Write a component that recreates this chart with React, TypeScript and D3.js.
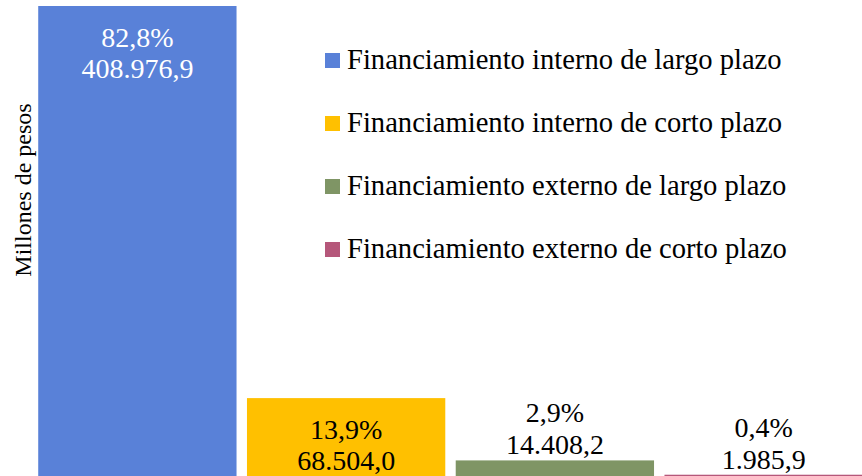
import React from "react"
import * as d3 from "d3"

const categories = [
  "Financiamiento interno de largo plazo",
  "Financiamiento interno de corto plazo",
  "Financiamiento externo de largo plazo",
  "Financiamiento externo de corto plazo",
]
const values = [408976.9, 68504.0, 14408.2, 1985.9]
const shares = [82.8, 13.9, 2.9, 0.4]
const colors = ["#5981d8", "#ffc000", "#7f9565", "#b5577a"]
const labelInside = [true, true, false, false]
const labelColors = ["#ffffff", "#000000", "#000000", "#000000"]

const width = 862
const height = 476
const font = "'Liberation Serif', 'Times New Roman', serif"

const es = d3.formatLocale({ decimal: ",", thousands: ".", grouping: [3], currency: ["$", ""] })
const fmtValue = es.format(",.1f")
const fmtShare = (v: number) => es.format(".1f")(v) + "%"

export default function App() {
  const x = d3.scaleBand<string>()
    .domain(categories)
    .range([33, 868])
    .paddingInner(0.05)
    .paddingOuter(0.025)
  const y = d3.scaleLinear()
    .domain([0, d3.max(values) as number])
    .range([477, 6])

  return (
    <svg width={width} height={height} style={{ position: "absolute", left: 0, top: 0, background: "#fff" }}>
      <text
        transform={`translate(31,${190}) rotate(-90)`}
        textAnchor="middle"
        fontFamily={font}
        fontSize={24}
        fill="#000"
      >
        Millones de pesos
      </text>
      {categories.map((c, i) => {
        const x0 = x(c) as number
        const top = y(values[i])
        const cx = x0 + x.bandwidth() / 2
        // labels inside the tall bars, above the short ones
        const l1 = labelInside[i] ? top + 41 : top - 38
        const l2 = labelInside[i] ? top + 72 : top - 6
        return (
          <g key={c}>
            <rect x={x0} y={top} width={x.bandwidth()} height={y(0) - top} fill={colors[i]} />
            <text x={cx} y={l1} textAnchor="middle" fontFamily={font} fontSize={28} fill={labelColors[i]}>
              {fmtShare(shares[i])}
            </text>
            <text x={cx} y={l2} textAnchor="middle" fontFamily={font} fontSize={28} fill={labelColors[i]}>
              {fmtValue(values[i])}
            </text>
          </g>
        )
      })}
      {categories.map((c, i) => {
        const base = 69 + i * 63
        return (
          <g key={"lg" + c}>
            <rect x={325} y={base - 16} width={15} height={15} fill={colors[i]} />
            <text x={347} y={base} fontFamily={font} fontSize={28.6} fill="#000">
              {c}
            </text>
          </g>
        )
      })}
    </svg>
  )
}
